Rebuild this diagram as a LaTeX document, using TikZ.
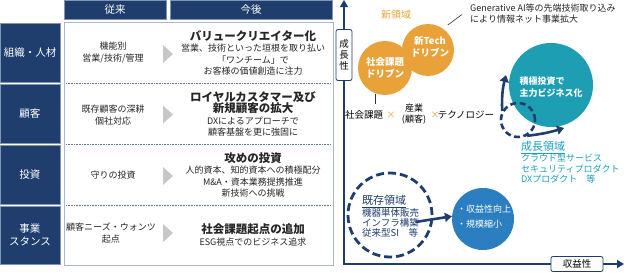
\documentclass[tikz,border=0pt]{standalone}
\usepackage{fontspec}
\setmainfont{Noto Sans CJK JP}
\usetikzlibrary{arrows.meta,positioning}
\definecolor{navy}{HTML}{1F3E6D}
\definecolor{orng}{HTML}{E9A23A}
\definecolor{teal2}{HTML}{1E9EB2}
\definecolor{tealtxt}{HTML}{1AA0B8}
\definecolor{blue2}{HTML}{2B7EBF}
\definecolor{panelline}{HTML}{A9B8CC}
\begin{document}
\begin{tikzpicture}[x=1pt,y=-1pt,
  hdr/.style={draw=navy!55!white, fill=navy, text=white, minimum height=19pt, inner sep=0pt, font=\fontsize{10.5}{12}\selectfont},
  rowlbl/.style={draw=navy!55!white, fill=navy, text=white, minimum width=60pt, inner sep=0pt, align=center, font=\fontsize{10.5}{13}\selectfont},
  oldtxt/.style={align=center, inner sep=1pt, text=black!85, font=\fontsize{9}{12}\selectfont},
  newtxt/.style={align=center, inner sep=1pt, text=black!85, font=\fontsize{9}{11.5}\selectfont},
  chev/.style={fill=black!22, draw=none},
  sep/.style={navy!70, densely dotted, line width=0.6pt},
  blob/.style={circle, draw=none, inner sep=0pt},
  ring/.style={circle, draw=navy, dashed, inner sep=0pt},
  fatarrow/.style={navy, line width=2.6pt, -{Triangle[length=7pt,width=9pt]}},
  axlbl/.style={draw=navy, fill=white, rounded corners=2pt, line width=0.8pt, inner sep=0pt, align=center, font=\fontsize{9.5}{11}\selectfont},
  lbl/.style={inner sep=1pt, font=\fontsize{9.5}{11}\selectfont}
]
\useasboundingbox (0,0) rectangle (624,273);

% table: headers and row labels
\node[hdr, minimum width=102pt] (old) at (115,9.5) {従来};
\node[hdr, minimum width=162pt] (new) at (251,9.5) {今後};
\draw[panelline, fill=white, line width=0.8pt] (64,22) rectangle (333,265);
\foreach \y/\h/\n/\lab in {52.5/59/1/組織・人材, 113.5/59/2/顧客, 174.5/59/3/投資, 235/58/4/{事業\\スタンス}} {
  \node[rowlbl, minimum height=\h pt] (row\n) at (30,\y) {\lab};
}
\foreach \y in {83,144,205} {
  \draw[sep] (66,\y) -- (331,\y);
}
\foreach \y in {54,114.5,176,233} {
  \fill[chev] (163,\y-9) -- (173,\y) -- (163,\y+9) -- cycle;
}

% before
\node[oldtxt] (old1) at (113,53) {機能別\\営業/技術/管理};
\node[oldtxt] (old2) at (113,115) {既存顧客の深耕\\個社対応};
\node[oldtxt] (old3) at (113,175) {守りの投資};
\node[oldtxt] (old4) at (111,233) {顧客ニーズ・ウォンツ\\起点};

% after
\node[newtxt] (new1) at (253,53) {{\fontsize{11.5}{13}\selectfont\bfseries バリュークリエイター化}\\営業、技術といった垣根を取り払い\\「ワンチーム」で\\お客様の価値創造に注力};
\node[newtxt] (new2) at (253,114) {{\fontsize{11.5}{13}\selectfont\bfseries ロイヤルカスタマー及び}\\{\fontsize{11.5}{13}\selectfont\bfseries 新規顧客の拡大}\\DXによるアプローチで\\顧客基盤を更に強固に};
\node[newtxt] (new3) at (253,175) {{\fontsize{11.5}{13}\selectfont\bfseries 攻めの投資}\\人的資本、知的資本への積極配分\\M\&A・資本業務提携推進\\新技術への挑戦};
\node[newtxt] (new4) at (253,235) {{\fontsize{11.5}{13}\selectfont\bfseries 社会課題起点の追加}\\ESG視点でのビジネス追求};

% axes
\coordinate (ytop) at (344,0);
\coordinate (xend) at (624,264);
\draw[navy, line width=1.4pt, {Triangle[length=7pt,width=8pt]}-{Triangle[length=7pt,width=8pt]}] (ytop) |- (xend);
\node[axlbl, minimum width=16pt, minimum height=51pt] (ylbl) at (344,55) {成\\長\\性};
\node[axlbl, minimum width=52pt, minimum height=15pt] (xlbl) at (577,264) {収益性};

% new domain
\node[blob, fill=orng, minimum size=52pt] (tech) at (428,50) {};
\node[blob, fill=orng, minimum size=54pt] (shakai) at (385,68) {};
\node[text=white, align=center, font=\fontsize{9.5}{11.5}\selectfont\bfseries] at (shakai) {社会課題\\ドリブン};
\node[text=white, align=center, font=\fontsize{9.5}{11.5}\selectfont\bfseries] at ([shift={(2,-3)}]tech.center) {新Tech\\ドリブン};
\node[lbl, text=orng, font=\fontsize{10}{12}\selectfont] (newdom) at (396,15) {新領域};
\node[lbl, anchor=west, inner sep=0pt, align=left, text=black!85, font=\fontsize{9}{11}\selectfont] (gen) at (470,13.5) {Generative AI等の先端技術取り込み\\により情報ネット事業拡大};
\draw[black!80, line width=0.6pt] ([shift={(3,-5)}]tech.50) -- ([shift={(-8,1)}]gen.west);

% axis of themes
\node[lbl] (kadai) at (364,115) {社会課題};
\node[lbl, text=orng] (x1) at (391,115) {×};
\node[lbl, align=center, font=\fontsize{9}{11}\selectfont] (sangyo) at (414,114) {産業\\(顧客)};
\node[lbl, text=orng] (x2) at (435,115) {×};
\node[lbl] (techno) at (466,115) {テクノロジー};
\draw[black!80, line width=0.6pt] (shakai.250) -- ([yshift=5pt]shakai.250 |- kadai.north);

% growth domain
\node[blob, fill=teal2, minimum size=84pt] (focus) at (551,85) {};
\node[text=white, align=left, font=\fontsize{9}{12}\selectfont\bfseries] at (551,87) {積極投資で\\主力ビジネス化};
\node[ring, line width=2.6pt, dash pattern=on 6pt off 3.5pt, minimum size=34pt] (loop) at (518,120) {};
\coordinate (upend) at (506,75);
\coordinate (rtend) at (564,128);
\draw[fatarrow] (loop.150) to[bend left=8] (upend);
\draw[fatarrow] (loop.-60) to[bend right=5] (rtend);
\node[anchor=north west, inner sep=0pt, align=left, text=tealtxt, font=\fontsize{9}{10.8}\selectfont] (growth) at (521,141) {{\fontsize{11}{13}\selectfont\underline{成長領域}}\\クラウド型サービス\\セキュリティプロダクト\\DXプロダクト　等};

% existing domain
\node[ring, line width=2.8pt, dash pattern=on 8pt off 4pt, minimum size=84pt] (kizon) at (390,215) {};
\node[anchor=north west, inner sep=0pt, align=left, text=navy, font=\fontsize{9.5}{10}\selectfont] (kizontxt) at (362,195) {{\fontsize{11}{12}\selectfont\underline{既存領域}}\\機器単体販売\\インフラ構築\\従来型SI　等};
\node[blob, fill=blue2, minimum size=62pt] (shueki) at (483,219) {};
\node[text=white, align=left, font=\fontsize{9}{15}\selectfont] (shuekitxt) at (484,217) {・収益性向上\\・規模縮小};
\draw[fatarrow] ([shift={(-18,7)}]kizon.east) -- (shueki.175);
\end{tikzpicture}
\end{document}
